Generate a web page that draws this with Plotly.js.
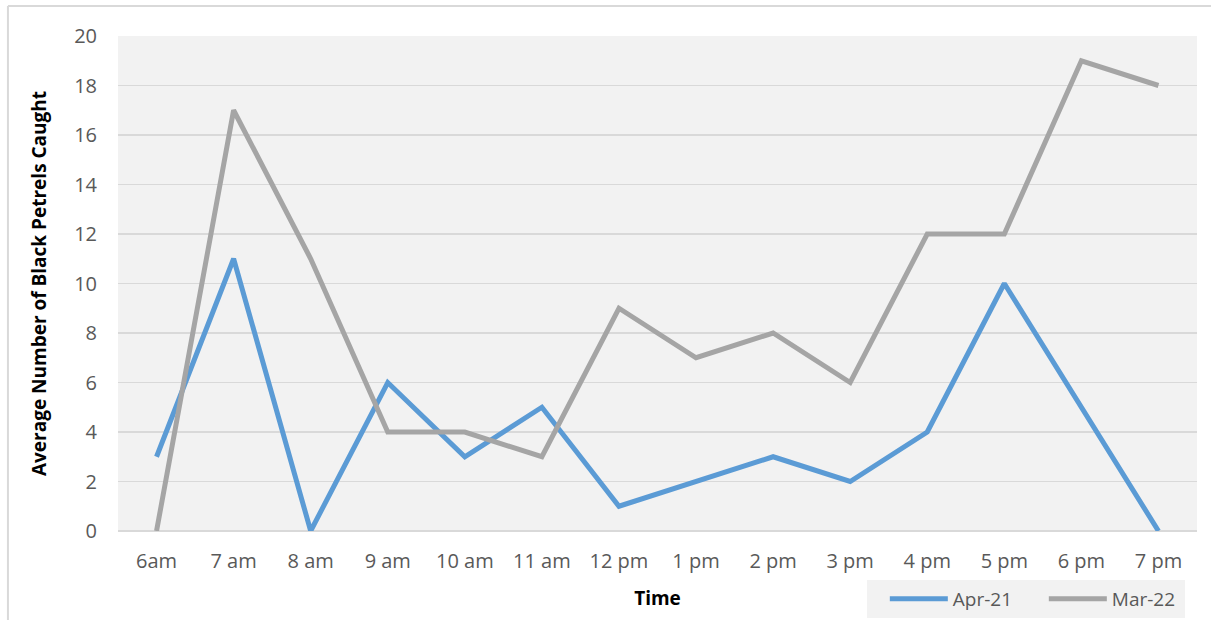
<!DOCTYPE html>
<html><head><meta charset="utf-8">
<script src="https://cdn.plot.ly/plotly-3.0.1.min.js"></script>
<style>html,body{margin:0;padding:0;background:#fff}</style>
</head><body>
<div id="chart" style="width:1211px;height:620px"></div>
<script>
const categories = ["6am","7 am","8 am","9 am","10 am","11 am","12 pm","1 pm","2 pm","3 pm","4 pm","5 pm","6 pm","7 pm"];
const apr21 = [3,11,0,6,3,5,1,2,3,2,4,10,5,0];
const mar22 = [0,17,11,4,4,3,9,7,8,6,12,12,19,18];
const yTicks = [0,2,4,6,8,10,12,14,16,18,20];

const font = "'Open Sans', 'Liberation Sans', sans-serif";
const traces = [
  {x: categories, y: apr21, name: "Apr-21", type: "scatter", mode: "lines",
   line: {color: "#5b9bd5", width: 5}},
  {x: categories, y: mar22, name: "Mar-22", type: "scatter", mode: "lines",
   line: {color: "#a5a5a5", width: 5}}
];
const layout = {
  width: 1211, height: 620,
  margin: {l: 118, r: 14, t: 36, b: 89, autoexpand: false},
  paper_bgcolor: "#ffffff",
  plot_bgcolor: "#f2f2f2",
  font: {family: font, color: "#595959", size: 20},
  xaxis: {
    type: "category", range: [-0.5, 13.5], showgrid: false, zeroline: false, showline: false,
    ticks: "", tickfont: {size: 20, color: "#595959"}, ticklabelstandoff: 16, automargin: false,
    title: {text: "<b>Time</b>", font: {size: 19, color: "#000000"}, standoff: 18}
  },
  yaxis: {
    range: [0, 20], tickvals: yTicks, showgrid: true, gridcolor: "#d9d9d9", gridwidth: 1.5,
    zeroline: true, zerolinecolor: "#d9d9d9", zerolinewidth: 1.5, ticks: "", automargin: false,
    tickfont: {size: 20, color: "#595959"}, ticklabelstandoff: 20,
    title: {text: "<b>Average Number of Black Petrels Caught</b>", font: {size: 19, color: "#000000"}, standoff: 22}
  },
  showlegend: true,
  legend: {
    orientation: "h", x: 0.694, xanchor: "left", y: -0.099, yanchor: "top",
    bgcolor: "#f2f2f2", font: {size: 19, color: "#595959"},
    itemwidth: 58, entrywidth: 68, indentation: 18
  },
  shapes: [
    {type: "line", xref: "paper", yref: "paper", x0: -0.102, x1: -0.102, y0: -0.3, y1: 1.0606,
     line: {color: "#d9d9d9", width: 2}},
    {type: "line", xref: "paper", yref: "paper", x0: -0.102, x1: 1.2, y0: 1.0606, y1: 1.0606,
     line: {color: "#d9d9d9", width: 2}}
  ]
};
Plotly.newPlot("chart", traces, layout, {displayModeBar: false, staticPlot: true});
</script>
</body></html>
